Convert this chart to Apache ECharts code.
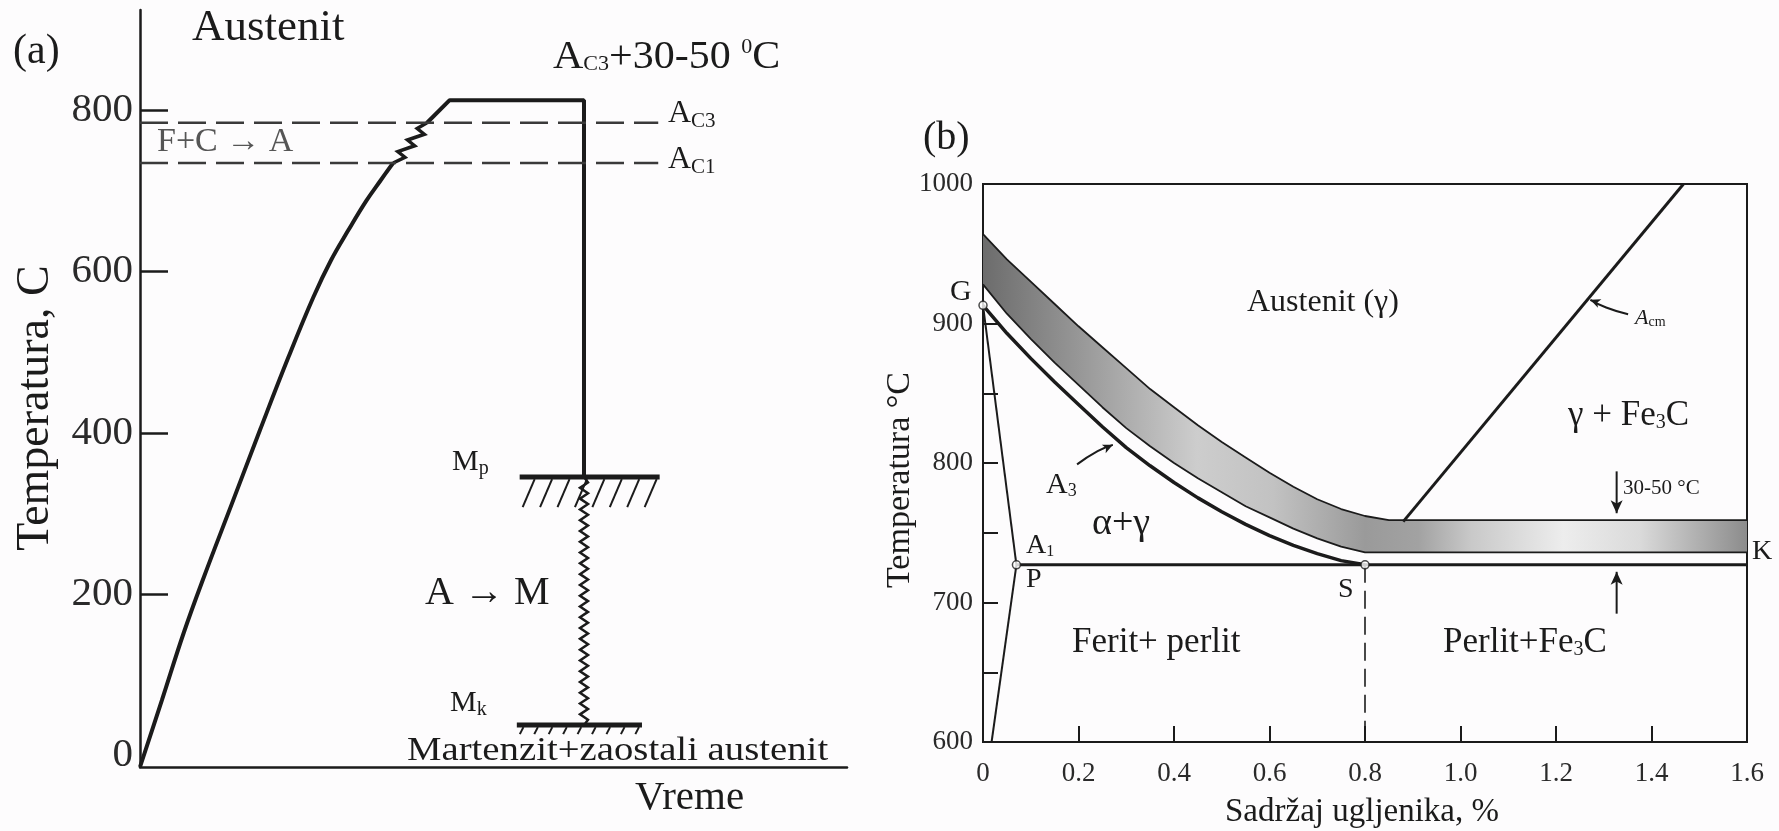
<!DOCTYPE html>
<html>
<head>
<meta charset="utf-8">
<title>Kaljenje čelika</title>
<script src="https://cdn.jsdelivr.net/npm/echarts@6.0.0/dist/echarts.min.js"></script>
<style>
html, body { margin: 0; padding: 0; background: #fdfcfd; }
#main { width: 1779px; height: 831px; }
</style>
</head>
<body>
<div id="main"></div>
<script>
var ink = '#1b1b1b';
var serif = "'Liberation Serif', 'Times New Roman', serif";

// (a) temperatura - vreme, vreme u proizvoljnim jedinicama (0..100)
var tempTicksA = [0, 200, 400, 600, 800];
var heatTime = [0, 3.1, 6.2, 9.0, 13.0, 17.0, 21.0, 24.5, 27.0, 29.5, 32.0, 34.0, 35.8];
var heatTemp = [-15, 68, 152, 220, 312, 404, 494, 568, 614, 652, 688, 713, 735];
var transTime = [35.8, 40.6];
var transTemp = [735, 785];
var holdTime = [40.6, 43.8, 62.8, 62.8];
var holdTemp = [785, 813, 813, 345];
var acTemp = [785, 735];          // A_C3, A_C1
var acEnd = 73.3;
var quenchTime = 62.8;
var mpTemp = 345, mkTemp = 37;
var mpSpan = [53.7, 73.5];
var mkSpan = [53.3, 71.0];

// (b) dijagram Fe-C, ugljenik % / temperatura °C
var a3Carbon = [0, 0.05, 0.1, 0.15, 0.2, 0.25, 0.3, 0.35, 0.4, 0.45, 0.5, 0.55, 0.6, 0.65, 0.7, 0.75, 0.8];
var a3Temp = [913, 893, 875, 858, 842, 826, 811, 798, 786, 775, 765, 756, 748, 741, 735, 730, 727];
var bandCarbon = [0, 0.05, 0.1, 0.15, 0.2, 0.25, 0.3, 0.35, 0.4, 0.45, 0.5, 0.55, 0.6, 0.65, 0.7, 0.75, 0.8, 0.85, 1.6];
var bandTop = [964, 946, 930, 914, 898, 883, 868, 853, 840, 827, 815, 804, 793, 783, 774, 767, 762, 759, 759];
var bandBottom = [928, 907, 889, 872, 856, 840, 825, 812, 800, 789, 779, 769, 761, 753, 746, 740, 736, 736, 736];
var gPoint = [0, 913], pPoint = [0.07, 727], sPoint = [0.8, 727], qPoint = [0.018, 600];
var a1End = 1.6;
var acmCarbon = [0.88, 1.467];
var acmTemp = [758, 1000];
var gapCarbon = 1.327;
var gapFrom = [794, 692];
var gapTo = [764, 722];

function zip(xs, ys) {
  return xs.map(function (x, i) { return [x, ys[i]]; });
}

function zigzag(params, api) {
  var p0 = api.coord([api.value(0), api.value(1)]);
  var p1 = api.coord([api.value(2), api.value(3)]);
  var n = 7, pts = [];
  for (var i = 0; i <= n; i++) {
    var t = i / n;
    var off = (i === 0 || i === n) ? 0 : (i % 2 ? 7 : -5);
    pts.push([p0[0] + (p1[0] - p0[0]) * t + off, p0[1] + (p1[1] - p0[1]) * t]);
  }
  return { type: 'polyline', shape: { points: pts }, style: { stroke: ink, lineWidth: 3.5, fill: null } };
}

function spring(params, api) {
  var top = api.coord([api.value(0), api.value(1)]);
  var bot = api.coord([api.value(0), api.value(2)]);
  var turns = 46, pts = [];
  for (var i = 0; i <= turns; i++) {
    var off = (i === 0 || i === turns) ? 0 : (i % 2 ? 4 : -4);
    pts.push([top[0] + off, top[1] + (bot[1] - top[1]) * i / turns]);
  }
  return { type: 'polyline', shape: { points: pts }, style: { stroke: ink, lineWidth: 2.5, fill: null } };
}

function hatch(depth, count) {
  return function (params, api) {
    var a = api.coord([api.value(0), api.value(2)]);
    var b = api.coord([api.value(1), api.value(2)]);
    var kids = [{ type: 'line', shape: { x1: a[0], y1: a[1], x2: b[0], y2: b[1] }, style: { stroke: ink, lineWidth: 5 } }];
    var slant = depth * 0.4;
    var step = (b[0] - a[0] - slant - 6) / (count - 1);
    for (var i = 0; i < count; i++) {
      var x = a[0] + 3 + i * step;
      kids.push({ type: 'line', shape: { x1: x, y1: a[1] + depth, x2: x + slant, y2: a[1] + 2 }, style: { stroke: ink, lineWidth: 2 } });
    }
    return { type: 'group', children: kids };
  };
}

var bandFill = new echarts.graphic.LinearGradient(0, 0, 1, 0, [
  { offset: 0, color: '#6c6c6c' },
  { offset: 0.12, color: '#959595' },
  { offset: 0.28, color: '#cdcdcd' },
  { offset: 0.38, color: '#c2c2c2' },
  { offset: 0.5, color: '#9a9a9a' },
  { offset: 0.57, color: '#a2a2a2' },
  { offset: 0.64, color: '#c9c9c9' },
  { offset: 0.76, color: '#ededed' },
  { offset: 0.86, color: '#dadada' },
  { offset: 1, color: '#8c8c8c' }
]);

function bandShape(params, api) {
  var pts = [];
  for (var i = 0; i < bandCarbon.length; i++) pts.push(api.coord([bandCarbon[i], bandTop[i]]));
  for (var j = bandCarbon.length - 1; j >= 0; j--) pts.push(api.coord([bandCarbon[j], bandBottom[j]]));
  return { type: 'polygon', shape: { points: pts }, style: { fill: bandFill } };
}

function line(grid, data, width, extra) {
  var s = {
    type: 'line', xAxisIndex: grid, yAxisIndex: grid, data: data,
    showSymbol: false, symbol: 'none', silent: true,
    lineStyle: { color: ink, width: width }
  };
  for (var k in extra) s[k] = extra[k];
  return s;
}

function arrowLine(data, rot, size, smooth) {
  return {
    type: 'line', xAxisIndex: 1, yAxisIndex: 1, silent: true, smooth: smooth || false,
    symbol: 'arrow', symbolSize: size, showSymbol: true,
    data: data.map(function (p, i) {
      return i === data.length - 1 ? { value: p, symbolRotate: rot } : { value: p, symbol: 'none' };
    }),
    lineStyle: { color: ink, width: 2 }, itemStyle: { color: ink }
  };
}

function tok(size, drop, extra) {
  var t = { fontSize: size, lineHeight: size, fontFamily: serif, fill: ink, verticalAlign: 'top', padding: [drop, 0, 0, 0] };
  for (var k in extra) t[k] = extra[k];
  return t;
}

function txt(x, y, text, size, opt) {
  opt = opt || {};
  var el = {
    type: 'text', x: x, y: y, silent: true,
    style: {
      text: text, fontFamily: serif, fontSize: size, fill: opt.fill || ink,
      align: opt.align || 'left', verticalAlign: 'middle',
      fontStyle: opt.fontStyle || 'normal'
    }
  };
  if (opt.rich) el.style.rich = opt.rich;
  if (opt.rotation) el.rotation = opt.rotation;
  if (opt.scaleX) el.scaleX = opt.scaleX;
  return el;
}

var subA = function (big, small, drop) { return { b: tok(big, 0), s: tok(small, drop) }; };

var graphics = [
  // (a)
  txt(13, 52, '(a)', 42),
  txt(192, 28, 'Austenit', 45),
  txt(553, 57, '{b|A}{s|C3}{b|+30-50 }{sup|0}{b|C}', 40,
    { rich: { b: tok(40, 0), s: tok(21, 17), sup: tok(21, 0) }, scaleX: 1.05 }),
  txt(668, 114, '{b|A}{s|C3}', 32, { rich: subA(32, 21, 13) }),
  txt(668, 160, '{b|A}{s|C1}', 32, { rich: subA(32, 21, 13) }),
  txt(157, 142, 'F+C → A', 34, { fill: '#555' }),
  txt(452, 462, '{b|M}{s|p}', 30, { rich: subA(30, 20, 12) }),
  txt(425, 593, 'A → M', 40),
  txt(450, 703, '{b|M}{s|k}', 30, { rich: subA(30, 20, 12) }),
  txt(407, 751, 'Martenzit+zaostali austenit', 34, { scaleX: 1.14 }),
  txt(635, 798, 'Vreme', 41),
  txt(36, 408, 'Temperatura, C', 46, { align: 'center', rotation: Math.PI / 2 }),
  // (b)
  txt(923, 138, '(b)', 40),
  txt(1247, 303, 'Austenit (γ)', 32),
  txt(950, 292, 'G', 30),
  txt(1046, 485, '{b|A}{s|3}', 30, { rich: subA(30, 18, 12) }),
  txt(1092, 524, 'α+γ', 38),
  txt(1026, 546, '{b|A}{s|1}', 28, { rich: subA(28, 16, 12) }),
  txt(1026, 580, 'P', 28),
  txt(1338, 590, 'S', 28),
  txt(1752, 552, 'K', 28),
  txt(1072, 643, 'Ferit+ perlit', 35),
  txt(1443, 643, '{b|Perlit+Fe}{s|3}{b|C}', 35, { rich: subA(35, 20, 14) }),
  txt(1568, 416, '{b|γ + Fe}{s|3}{b|C}', 35, { rich: subA(35, 20, 14) }),
  txt(1635, 318, '{b|A}{s|cm}', 22, { rich: { b: tok(22, 0, { fontStyle: 'italic' }), s: tok(14, 8) } }),
  txt(1623, 488, '30-50 °C', 21),
  txt(1362, 812, 'Sadržaj ugljenika, %', 33, { align: 'center' }),
  txt(900, 480, 'Temperatura °C', 34, { align: 'center', rotation: Math.PI / 2 })
];

var chart = echarts.init(document.getElementById('main'));
chart.setOption({
  animation: false,
  backgroundColor: '#fdfcfd',
  textStyle: { fontFamily: serif },
  grid: [
    { left: 140, top: 10, width: 707, height: 757 },
    { left: 983, top: 184, width: 764, height: 558, show: true, borderColor: ink, borderWidth: 2, backgroundColor: 'transparent' }
  ],
  xAxis: [
    {
      gridIndex: 0, type: 'value', min: 0, max: 100,
      axisLine: { onZero: false, lineStyle: { color: ink, width: 2.5 } },
      axisTick: { show: false }, axisLabel: { show: false }, splitLine: { show: false }
    },
    {
      gridIndex: 1, type: 'value', min: 0, max: 1.6, interval: 0.2,
      axisLine: { onZero: false, lineStyle: { color: ink, width: 2 } },
      axisTick: { inside: true, length: 16, lineStyle: { color: ink, width: 2 } },
      axisLabel: {
        margin: 18, fontSize: 27, fontFamily: serif, color: '#2a2a2a',
        formatter: function (v) { return v === 0 ? '0' : v.toFixed(1); }
      },
      splitLine: { show: false }
    }
  ],
  yAxis: [
    {
      gridIndex: 0, type: 'value', min: -15, max: 925,
      axisLine: { show: true, onZero: false, lineStyle: { color: ink, width: 2.5 } },
      axisTick: { show: true, inside: true, length: 28, customValues: tempTicksA.slice(1), lineStyle: { color: ink, width: 2.5 } },
      axisLabel: { customValues: tempTicksA, margin: 7, fontSize: 41, fontFamily: serif, color: '#2a2a2a' },
      splitLine: { show: false }
    },
    {
      gridIndex: 1, type: 'value', min: 600, max: 1000, interval: 50,
      axisLine: { show: true, onZero: false, lineStyle: { color: ink, width: 2 } },
      axisTick: { show: true, inside: true, length: 15, lineStyle: { color: ink, width: 2 } },
      axisLabel: {
        margin: 10, fontSize: 27, fontFamily: serif, color: '#2a2a2a',
        formatter: function (v) { return v % 100 === 0 ? String(v) : ''; }
      },
      splitLine: { show: false }
    }
  ],
  series: [
    // (a)
    line(0, zip(heatTime, heatTemp), 4, { smooth: 0.4 }),
    { type: 'custom', xAxisIndex: 0, yAxisIndex: 0, silent: true, renderItem: zigzag,
      data: [[transTime[0], transTemp[0], transTime[1], transTemp[1]]] },
    line(0, zip(holdTime, holdTemp), 4),
    line(0, [[0, acTemp[0]], [acEnd, acTemp[0]]], 2.5, { lineStyle: { color: '#3a3a3a', width: 2.5, type: [28, 10] } }),
    line(0, [[0, acTemp[1]], [acEnd, acTemp[1]]], 2.5, { lineStyle: { color: '#3a3a3a', width: 2.5, type: [28, 10] } }),
    { type: 'custom', xAxisIndex: 0, yAxisIndex: 0, silent: true, renderItem: spring,
      data: [[quenchTime, mpTemp, mkTemp]] },
    { type: 'custom', xAxisIndex: 0, yAxisIndex: 0, silent: true, renderItem: hatch(30, 8),
      data: [[mpSpan[0], mpSpan[1], mpTemp]] },
    { type: 'custom', xAxisIndex: 0, yAxisIndex: 0, silent: true, renderItem: hatch(9, 9),
      data: [[mkSpan[0], mkSpan[1], mkTemp]] },
    // (b)
    { type: 'custom', xAxisIndex: 1, yAxisIndex: 1, silent: true, renderItem: bandShape,
      data: [[bandCarbon[0], bandTop[0]]] },
    line(1, zip(bandCarbon, bandTop), 1.8),
    line(1, zip(bandCarbon, bandBottom), 1.8),
    line(1, zip(a3Carbon, a3Temp), 3.5),
    line(1, [gPoint, pPoint], 2),
    line(1, [pPoint, qPoint], 2),
    line(1, [pPoint, [a1End, pPoint[1]]], 3),
    line(1, zip(acmCarbon, acmTemp), 3),
    line(1, [sPoint, [sPoint[0], 600]], 1.6, { lineStyle: { color: ink, width: 1.6, type: [18, 8] } }),
    arrowLine([[gapCarbon, gapFrom[0]], [gapCarbon, gapTo[0]]], 180, [9, 13]),
    arrowLine([[gapCarbon, gapFrom[1]], [gapCarbon, gapTo[1]]], 0, [9, 13]),
    arrowLine([[1.351, 906.6], [1.305, 911.5], [1.272, 917]], 68, [7, 10], 0.5),
    arrowLine([[0.197, 799], [0.24, 808.5], [0.272, 813]], -66, [7, 10], 0.5),
    {
      type: 'scatter', xAxisIndex: 1, yAxisIndex: 1, silent: true, z: 5,
      data: [gPoint, pPoint, sPoint], symbolSize: 8,
      itemStyle: { color: '#fff', borderColor: ink, borderWidth: 1.5 }
    }
  ],
  graphic: graphics
});
</script>
</body>
</html>
